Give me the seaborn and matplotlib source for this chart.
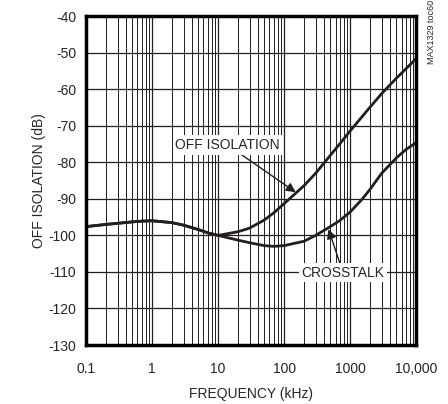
import matplotlib
matplotlib.use("Agg")
import matplotlib.pyplot as plt
import matplotlib.ticker as mticker
import pandas as pd
import seaborn as sns

# valori
frecventa = [0.1, 0.2, 0.3, 0.5, 0.7, 1, 2, 3, 5, 7, 10, 20, 30, 50, 70,
             100, 200, 300, 500, 700, 1000, 1500, 2000, 3000, 5000, 7000, 10000]
off_izolare = [-97.6, -97.0, -96.7, -96.3, -96.1, -96.0, -96.5, -97.2, -98.4, -99.3,
               -100.0, -99.0, -98.0, -95.8, -93.8, -91.3, -86.4, -83.0, -78.1, -74.9,
               -71.4, -67.6, -64.9, -61.2, -57.0, -54.4, -51.6]
diafonie = [-97.6, -97.0, -96.7, -96.3, -96.1, -96.0, -96.5, -97.2, -98.4, -99.3,
            -100.0, -101.3, -102.0, -102.8, -103.0, -102.8, -101.6, -100.0, -97.6, -95.9,
            -93.6, -90.2, -87.4, -83.0, -78.8, -76.5, -74.6]
yticks = [-40, -50, -60, -70, -80, -90, -100, -110, -120, -130]
xticks = [0.1, 1, 10, 100, 1000, 10000]
xlabels = ["0.1", "1", "10", "100", "1000", "10,000"]

df = pd.DataFrame({
    "f": frecventa * 2,
    "db": off_izolare + diafonie,
    "serie": ["OFF ISOLATION"] * len(frecventa) + ["CROSSTALK"] * len(frecventa),
})

sns.set_style("white")
plt.rcParams['font.family'] = ['Liberation Sans', 'DejaVu Sans']
plt.rcParams['axes.unicode_minus'] = False

fig = plt.figure(figsize=(4.48, 4.04), dpi=100)
ax = fig.add_axes([0.192, 0.146, 0.737, 0.814])

sns.lineplot(data=df, x="f", y="db", units="serie", estimator=None,
             color="#231f20", linewidth=2.0, ax=ax, legend=False, zorder=3)

ax.set_xscale("log")
ax.set_xlim(0.1, 10000)
ax.set_ylim(-130, -40)
ax.set_xticks(xticks)
ax.set_xticklabels(xlabels)
ax.xaxis.set_minor_locator(mticker.LogLocator(base=10, subs=range(2, 10)))
ax.xaxis.set_minor_formatter(mticker.NullFormatter())
ax.set_yticks(yticks)
ax.tick_params(axis="y", which="both", length=0, labelsize=10, pad=7)
ax.tick_params(axis="x", which="both", length=0, labelsize=10, pad=12)

ax.grid(True, which="major", axis="both", color="#231f20", linewidth=0.9)
ax.grid(True, which="minor", axis="x", color="#231f20", linewidth=0.7)

for s in ax.spines.values():
    s.set_linewidth(2.5)
    s.set_color("black")
    s.set_zorder(5)

ax.set_xlabel("FREQUENCY (kHz)", fontsize=10, labelpad=8)
ax.set_ylabel("OFF ISOLATION (dB)", fontsize=10, labelpad=2)

box = dict(facecolor="white", edgecolor="none", pad=2)
ax.annotate("OFF ISOLATION", xy=(150, -88.2), xytext=(14, -75.3),
            fontsize=10, ha="center", va="center", bbox=box, zorder=4,
            arrowprops=dict(arrowstyle="-|>", color="#231f20", lw=1.0,
                            mutation_scale=14, shrinkA=0, shrinkB=0))
ax.annotate("CROSSTALK", xy=(470, -98.3), xytext=(780, -110.2),
            fontsize=10, ha="center", va="center", bbox=box, zorder=4,
            arrowprops=dict(arrowstyle="-|>", color="#231f20", lw=1.0,
                            mutation_scale=14, shrinkA=0, shrinkB=0))

fig.text(0.963, 0.92, "MAX1329 toc60", rotation=90, fontsize=6.5,
         ha="center", va="center")

fig.savefig("out.png", dpi=100)
